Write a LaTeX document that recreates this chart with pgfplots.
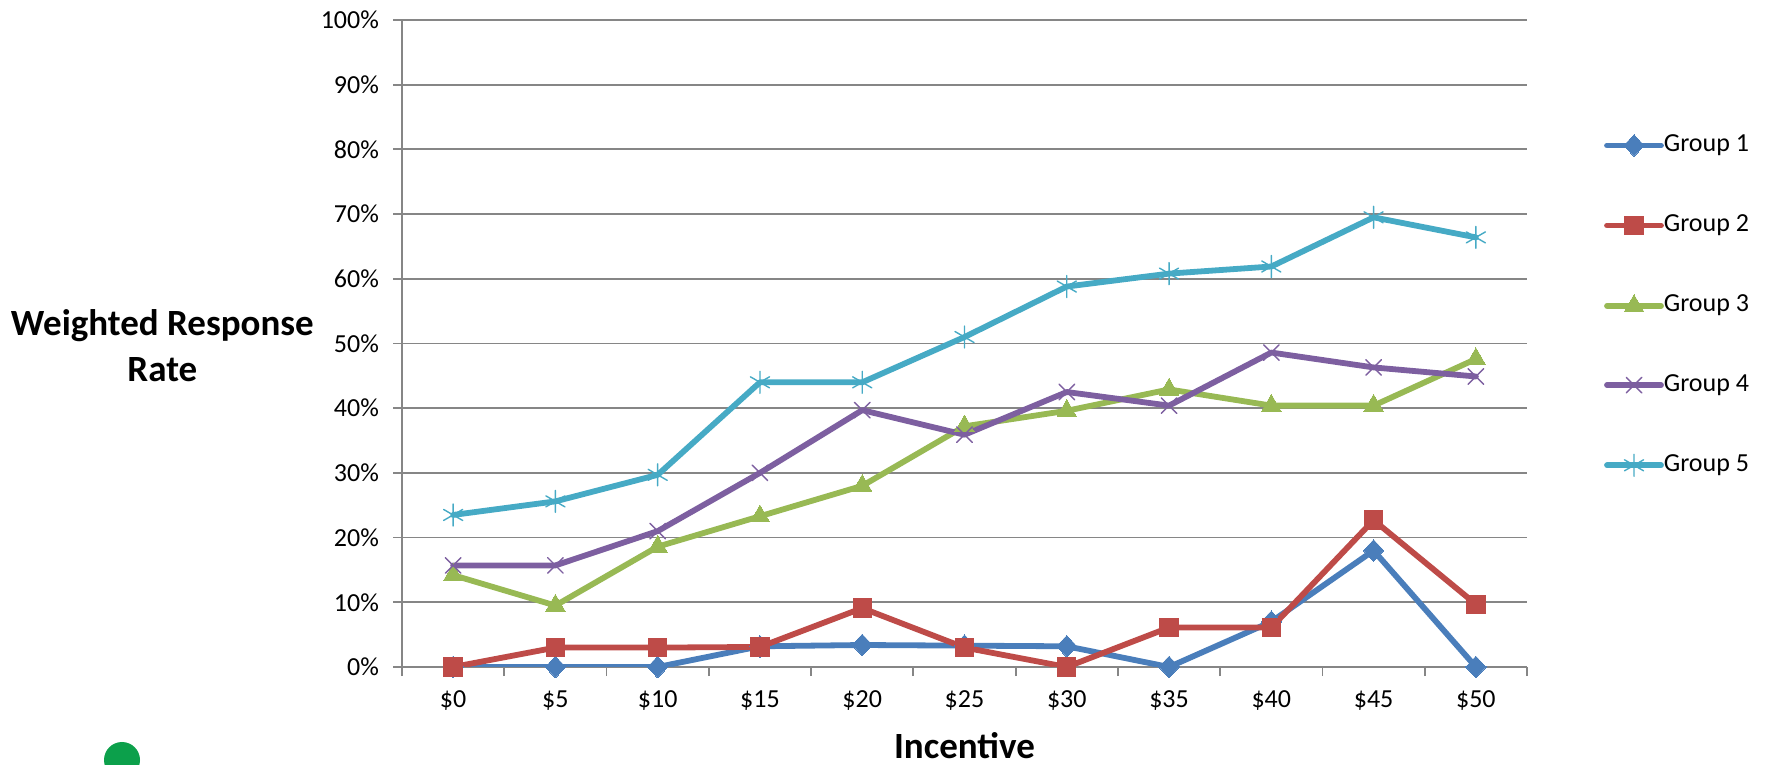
\documentclass[border=0pt]{standalone}
\usepackage{fontspec}
\setmainfont{Carlito}
\usepackage{pgfplots}
\pgfplotsset{compat=1.18}
\usetikzlibrary{plotmarks}
\definecolor{gOne}{HTML}{4A7EBB}
\definecolor{gTwo}{HTML}{BE4B48}
\definecolor{gThree}{HTML}{98B954}
\definecolor{gFour}{HTML}{7D5FA0}
\definecolor{gFive}{HTML}{46AAC5}
\definecolor{gridc}{HTML}{868686}
\begin{document}
\begin{tikzpicture}[x=1pt,y=1pt]
\useasboundingbox (0,0) rectangle (885.5,382.5);
% logo fragment at the lower edge
\begin{scope}
\clip (0,0) rectangle (885.5,382.5);
\fill[fill={rgb,255:red,12;green,160;blue,75}] (61,2.5) circle (9);
\end{scope}
\begin{axis}[
  at={(201pt,49pt)}, anchor=south west,
  scale only axis, width=562.5pt, height=323.5pt,
  xmin=-0.5, xmax=10.5, ymin=0, ymax=100,
  xtick={0,...,10},
  xticklabels={\$0,\$5,\$10,\$15,\$20,\$25,\$30,\$35,\$40,\$45,\$50},
  minor xtick={-0.5,0.5,...,10.5},
  ytick={0,10,...,100},
  yticklabel={\pgfmathprintnumber{\tick}\%},
  /pgf/number format/assume math mode=true,
  tick align=outside,
  x tick style={draw=none},
  minor x tick style={draw=gridc,line width=0.9pt},
  minor tick length=4.5pt,
  y tick style={draw=gridc,line width=0.9pt},
  major tick length=4.5pt,
  ymajorgrids,
  grid style={draw=gridc,line width=0.9pt},
  axis line style={draw=gridc,line width=0.9pt},
  axis x line*=bottom, axis y line*=left,
  tick label style={font=\fontsize{13}{15}\selectfont,black},
  xticklabel style={yshift=-4pt},
  yticklabel style={xshift=-3.5pt},
  xlabel={\textbf{Incentive}},
  xlabel style={font=\fontsize{18.5}{22}\selectfont,at={(axis description cs:0.5,0)},yshift=-29pt,anchor=north},
  ylabel={\textbf{Weighted Response}\\\textbf{Rate}},
  ylabel style={font=\fontsize{18.5}{23}\selectfont,rotate=-90,align=center,anchor=center,
    at={(axis description cs:-0.213,0.497)}},
  every axis plot/.append style={line width=2.9pt,line join=round,line cap=round},
  legend cell align=left,
  legend style={draw=none,fill=none,at={(axis cs:10.55,90)},xshift=36pt,yshift=-25pt,anchor=north west,
    font=\fontsize{13}{15}\selectfont,row sep=29.6pt,inner sep=0pt,outer sep=0pt,
    nodes={inner sep=0pt,outer sep=0pt,text height=8pt,text depth=2pt}},
  legend image code/.code={
    \draw[#1,mark=none] (0,0) -- (27pt,0);
    \path[#1] plot coordinates {(13.5pt,0)};
  },
]
\addplot[color=gOne,mark=diamond*,mark size=5.4pt,mark options={solid,line width=0pt,fill=gOne,draw=gOne,xscale=1.25}] table {
0 0
1 0
2 0
3 3.2
4 3.4
5 3.3
6 3.2
7 0
8 7
9 18
10 0
};
\addlegendentry{Group 1}
\addplot[color=gTwo,mark=square*,mark size=4.6pt,mark options={solid,line width=0pt,fill=gTwo,draw=gTwo}] table {
0 0
1 3
2 3
3 3.1
4 9.1
5 3
6 0
7 6.1
8 6.1
9 22.7
10 9.7
};
\addlegendentry{Group 2}
\addplot[color=gThree,mark=triangle*,mark size=5.6pt,mark options={solid,line width=0pt,fill=gThree,draw=gThree}] table {
0 14.2
1 9.5
2 18.6
3 23.3
4 28
5 37.2
6 39.6
7 42.9
8 40.4
9 40.4
10 47.6
};
\addlegendentry{Group 3}
\addplot[color=gFour,mark=x,mark size=5.5pt,mark options={solid,line width=0.7pt,draw=gFour}] table {
0 15.7
1 15.7
2 21
3 30
4 39.7
5 35.9
6 42.5
7 40.4
8 48.6
9 46.3
10 44.9
};
\addlegendentry{Group 4}
\addplot[color=gFive,mark=asterisk,mark size=5.5pt,mark options={solid,line width=0.7pt,draw=gFive}] table {
0 23.5
1 25.6
2 29.7
3 44
4 44
5 51
6 58.8
7 60.8
8 61.9
9 69.5
10 66.4
};
\addlegendentry{Group 5}
\end{axis}
\end{tikzpicture}
\end{document}
